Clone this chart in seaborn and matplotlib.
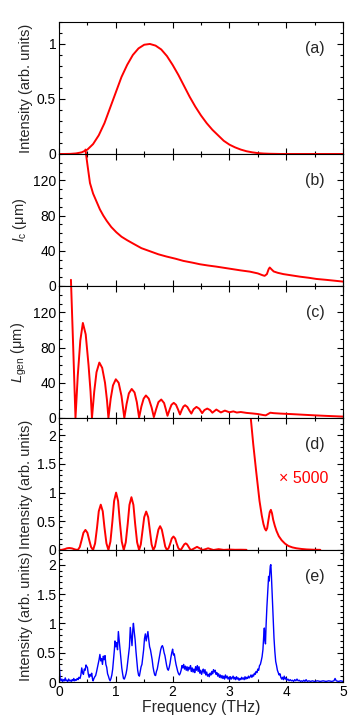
import numpy as np
import matplotlib
matplotlib.use("Agg")
import matplotlib.pyplot as plt
from matplotlib.ticker import MultipleLocator, FuncFormatter
import seaborn as sns

# (a) THz pump spectrum
freq_a = np.round(np.arange(0, 5.01, 0.1), 1)
int_a = [0, 0, 0.001, 0.005, 0.015, 0.04, 0.09, 0.17, 0.28, 0.42,
         0.56, 0.70, 0.81, 0.90, 0.96, 0.993, 1.0, 0.985, 0.95, 0.89,
         0.81, 0.72, 0.62, 0.52, 0.43, 0.35, 0.28, 0.22, 0.17, 0.12,
         0.085, 0.06, 0.04, 0.025, 0.015, 0.008, 0.004, 0.002, 0.001,
         0, 0, 0, 0, 0, 0, 0, 0, 0, 0, 0, 0]

# (b) coherence length
freq_b = [0.465, 0.5, 0.545, 0.6, 0.66, 0.72, 0.78, 0.84, 0.92, 1.01, 1.1, 1.2,
          1.31, 1.45, 1.6, 1.75, 1.89, 2.05, 2.19, 2.35, 2.48, 2.62, 2.77, 2.92,
          3.07, 3.2, 3.36, 3.5, 3.58, 3.62, 3.66, 3.69, 3.71, 3.74, 3.78, 3.85,
          3.95, 4.1, 4.24, 4.4, 4.53, 4.7, 4.85, 5.0]
lc_b = [155, 138, 117, 105, 96, 87, 80, 74, 67, 61, 56, 52,
        48, 43, 39.5, 36, 33.5, 31, 28.5, 26.5, 24.7, 23.3, 22, 20.5,
        19, 17.7, 16.3, 14.3, 12.3, 11.5, 13.5, 19, 21, 19, 16.5, 15,
        13.5, 12, 10.6, 9.3, 8, 7, 6, 5]

# (c) generation length
freq_c = [0.21, 0.25, 0.29,
          0.33, 0.375, 0.42, 0.47, 0.52, 0.555, 0.58,
          0.62, 0.66, 0.71, 0.76, 0.81, 0.845, 0.87,
          0.91, 0.95, 1.0, 1.05, 1.1, 1.15,
          1.19, 1.23, 1.28, 1.33, 1.37, 1.41,
          1.45, 1.49, 1.53, 1.58, 1.63, 1.67,
          1.71, 1.75, 1.80, 1.85, 1.88, 1.91,
          1.95, 1.98, 2.02, 2.06, 2.1, 2.13,
          2.16, 2.19, 2.22, 2.26, 2.3, 2.33,
          2.37, 2.42, 2.47, 2.52, 2.56, 2.61, 2.66, 2.70,
          2.77, 2.85, 2.92, 3.0, 3.07, 3.13, 3.2, 3.3, 3.4, 3.5,
          3.6, 3.64, 3.68, 3.72, 3.78, 3.9, 4.1, 4.3, 4.5, 4.7, 5.0]
lgen_c = [157, 80, 0,
          48, 88, 108, 95, 60, 30, 0,
          30, 52, 63, 57, 40, 20, 0,
          22, 37, 44, 40, 25, 0,
          16, 28, 33, 29, 18, 0.5,
          13, 22, 25.6, 22, 12, 1,
          10, 18, 21, 17, 10, 2.5,
          10, 15, 17.2, 15, 9, 4,
          9, 13, 14.5, 12.5, 8, 5,
          10, 12.6, 10.5, 5.5, 9, 10.7, 9, 6,
          9.6, 6.3, 8.4, 6.5, 7.5, 6.2, 6.8, 5.8, 5.2, 4.5,
          3.3, 3.0, 4.5, 6.0, 5.5, 5.0, 4.4, 3.7, 3.0, 2.4, 1.6]

# (d) calculated THz-induced intensity
freq_d = [0.0, 0.05, 0.1, 0.14, 0.18, 0.23, 0.28, 0.33,
          0.365, 0.40, 0.43, 0.465, 0.50, 0.53, 0.565, 0.60,
          0.635, 0.67, 0.70, 0.735, 0.77, 0.80, 0.835, 0.87,
          0.905, 0.94, 0.97, 1.005, 1.04, 1.07, 1.105, 1.14,
          1.175, 1.21, 1.24, 1.275, 1.31, 1.34, 1.375, 1.41,
          1.44, 1.47, 1.50, 1.535, 1.57, 1.60, 1.63, 1.66,
          1.69, 1.72, 1.75, 1.78, 1.81, 1.84, 1.87, 1.90,
          1.93, 1.96, 1.985, 2.015, 2.045, 2.07, 2.10, 2.13,
          2.155, 2.18, 2.205, 2.23, 2.255, 2.28, 2.305, 2.33,
          2.38, 2.43, 2.48, 2.53, 2.58, 2.625, 2.67, 2.72,
          2.81, 2.90, 3.0, 3.1, 3.2, 3.3]
int_d = [0, 0.003, 0.015, 0.03, 0.035, 0.028, 0.01, 0,
         0.05, 0.18, 0.30, 0.35, 0.30, 0.18, 0.05, 0,
         0.115, 0.395, 0.675, 0.79, 0.675, 0.395, 0.115, 0,
         0.146, 0.5, 0.854, 1.0, 0.854, 0.5, 0.146, 0,
         0.134, 0.46, 0.786, 0.92, 0.786, 0.46, 0.134, 0,
         0.098, 0.335, 0.572, 0.67, 0.572, 0.335, 0.098, 0,
         0.06, 0.21, 0.355, 0.415, 0.355, 0.21, 0.06, 0,
         0.034, 0.118, 0.2, 0.235, 0.2, 0.118, 0.034, 0,
         0.017, 0.058, 0.098, 0.115, 0.098, 0.058, 0.017, 0,
         0.028, 0.055, 0.028, 0, 0.015, 0.03, 0.015, 0,
         0.015, 0.002, 0.008, 0.004, 0.005, 0.003]
# (d) same, magnified x5000 near 3.7 THz
freq_d5 = [3.33, 3.375, 3.42, 3.47, 3.53, 3.57, 3.60, 3.625, 3.645, 3.665,
           3.685, 3.71, 3.73, 3.75, 3.77, 3.80, 3.83, 3.87, 3.92, 3.98,
           4.04, 4.11, 4.18, 4.27, 4.36, 4.48, 4.6]
int_d5 = [2.9, 2.31, 1.84, 1.38, 0.855, 0.6, 0.45, 0.37, 0.34, 0.38,
          0.51, 0.66, 0.70, 0.64, 0.53, 0.42, 0.33, 0.24, 0.17, 0.11,
          0.07, 0.045, 0.03, 0.018, 0.01, 0.005, 0.003]

# (e) measured intensity
freq_e = [0.00, 0.01, 0.02, 0.035, 0.05, 0.065, 0.08, 0.095, 0.11, 0.125,
          0.14, 0.155, 0.17, 0.185, 0.20, 0.215, 0.23, 0.245, 0.26, 0.275,
          0.29, 0.305, 0.32, 0.335, 0.35, 0.37, 0.385, 0.40, 0.415, 0.43,
          0.445, 0.46, 0.475, 0.49, 0.50, 0.515, 0.53, 0.545, 0.56, 0.575,
          0.59, 0.60, 0.615, 0.63, 0.645, 0.66, 0.675, 0.69, 0.705, 0.72,
          0.735, 0.75, 0.765, 0.78, 0.795, 0.81, 0.825, 0.84, 0.855, 0.87,
          0.885, 0.90, 0.915, 0.93, 0.945, 0.96, 0.975, 0.985, 1.00, 1.015,
          1.03, 1.045, 1.06, 1.075, 1.09, 1.105, 1.12, 1.135, 1.15, 1.165,
          1.18, 1.195, 1.21, 1.225, 1.24, 1.255, 1.27, 1.285, 1.30, 1.31,
          1.325, 1.34, 1.355, 1.37, 1.385, 1.40, 1.415, 1.43, 1.445, 1.46,
          1.475, 1.49, 1.505, 1.52, 1.535, 1.55, 1.565, 1.58, 1.595, 1.61,
          1.625, 1.64, 1.655, 1.67, 1.685, 1.70, 1.715, 1.73, 1.745, 1.76,
          1.775, 1.79, 1.805, 1.82, 1.835, 1.85, 1.865, 1.88, 1.895, 1.91,
          1.925, 1.94, 1.955, 1.97, 1.985, 2.00, 2.015, 2.03, 2.045, 2.06,
          2.075, 2.09, 2.105, 2.12, 2.135, 2.15, 2.165, 2.18, 2.195, 2.21,
          2.225, 2.24, 2.255, 2.27, 2.285, 2.30, 2.315, 2.33, 2.345, 2.36,
          2.375, 2.39, 2.405, 2.42, 2.435, 2.45, 2.465, 2.48, 2.495, 2.51,
          2.525, 2.54, 2.555, 2.57, 2.585, 2.60, 2.615, 2.63, 2.645, 2.66,
          2.675, 2.69, 2.705, 2.72, 2.735, 2.75, 2.765, 2.78, 2.795, 2.81,
          2.825, 2.84, 2.855, 2.87, 2.885, 2.90, 2.915, 2.93, 2.945, 2.96,
          2.975, 2.99, 3.005, 3.02, 3.035, 3.05, 3.065, 3.08, 3.095, 3.11,
          3.125, 3.14, 3.155, 3.17, 3.185, 3.20, 3.215, 3.23, 3.245, 3.26,
          3.275, 3.29, 3.305, 3.32, 3.335, 3.35, 3.365, 3.38, 3.395, 3.41,
          3.425, 3.44, 3.455, 3.47, 3.485, 3.50, 3.515, 3.53, 3.545, 3.56,
          3.575, 3.59, 3.605, 3.615, 3.625, 3.635, 3.645, 3.66, 3.675, 3.69,
          3.70, 3.71, 3.72, 3.73, 3.74, 3.755, 3.77, 3.785, 3.80, 3.815,
          3.83, 3.845, 3.86, 3.875, 3.89, 3.905, 3.92, 3.935, 3.95, 3.965,
          3.98, 3.995, 4.01, 4.03, 4.05, 4.07, 4.09, 4.11, 4.13, 4.15,
          4.17, 4.19, 4.21, 4.23, 4.25, 4.27, 4.29, 4.31, 4.33, 4.35,
          4.37, 4.40, 4.43, 4.46, 4.50, 4.55, 4.60, 4.65, 4.70, 4.75,
          4.80, 4.84, 4.86, 4.88, 4.92, 4.96, 5.00]
int_e = [0.35, 0.20, 0.06, 0.02, 0.05, 0.01, 0.04, 0.02, 0.07, 0.02,
         0.03, 0.01, 0.05, 0.02, 0.03, 0.01, 0.04, 0.02, 0.06, 0.02,
         0.04, 0.03, 0.06, 0.04, 0.08, 0.06, 0.12, 0.24, 0.16, 0.13,
         0.22, 0.20, 0.29, 0.26, 0.25, 0.14, 0.08, 0.13, 0.10, 0.15,
         0.05, 0.02, 0.06, 0.09, 0.11, 0.17, 0.24, 0.31, 0.38, 0.47,
         0.36, 0.40, 0.30, 0.44, 0.38, 0.45, 0.30, 0.25, 0.14, 0.10,
         0.05, 0.02, 0.06, 0.12, 0.22, 0.38, 0.55, 0.70, 0.60, 0.67,
         0.55, 0.86, 0.70, 0.52, 0.38, 0.24, 0.14, 0.06, 0.05, 0.09,
         0.14, 0.22, 0.35, 0.48, 0.60, 0.93, 0.78, 0.62, 0.90, 1.00,
         0.85, 0.72, 0.52, 0.36, 0.20, 0.12, 0.10, 0.18, 0.26, 0.30,
         0.42, 0.55, 0.74, 0.82, 0.70, 0.78, 0.86, 0.72, 0.60, 0.55,
         0.46, 0.38, 0.26, 0.18, 0.12, 0.11, 0.18, 0.22, 0.30, 0.38,
         0.45, 0.55, 0.60, 0.62, 0.58, 0.50, 0.45, 0.36, 0.28, 0.22,
         0.20, 0.25, 0.32, 0.42, 0.50, 0.56, 0.46, 0.48, 0.38, 0.30,
         0.24, 0.18, 0.14, 0.12, 0.15, 0.20, 0.28, 0.24, 0.30, 0.22,
         0.27, 0.20, 0.26, 0.19, 0.25, 0.22, 0.28, 0.18, 0.24, 0.17,
         0.22, 0.16, 0.26, 0.20, 0.28, 0.18, 0.26, 0.15, 0.20, 0.13,
         0.18, 0.22, 0.15, 0.21, 0.12, 0.17, 0.10, 0.13, 0.09, 0.15,
         0.12, 0.18, 0.14, 0.21, 0.17, 0.20, 0.13, 0.16, 0.10, 0.14,
         0.08, 0.12, 0.07, 0.11, 0.06, 0.10, 0.05, 0.12, 0.07, 0.10,
         0.05, 0.08, 0.04, 0.09, 0.05, 0.07, 0.10, 0.05, 0.08, 0.04,
         0.09, 0.05, 0.07, 0.03, 0.06, 0.04, 0.08, 0.05, 0.07, 0.04,
         0.09, 0.05, 0.08, 0.06, 0.10, 0.07, 0.09, 0.12, 0.08, 0.12,
         0.10, 0.15, 0.13, 0.18, 0.16, 0.22, 0.20, 0.28, 0.30, 0.36,
         0.43, 0.55, 0.80, 0.92, 0.72, 0.65, 0.95, 1.28, 1.55, 1.80,
         1.72, 1.85, 1.98, 2.00, 1.80, 1.45, 1.10, 0.75, 0.52, 0.35,
         0.28, 0.20, 0.16, 0.12, 0.14, 0.08, 0.05, 0.08, 0.04, 0.10,
         0.05, 0.07, 0.03, 0.05, 0.02, 0.04, 0.02, 0.03, 0.01, 0.04,
         0.02, 0.05, 0.02, 0.03, 0.01, 0.02, 0.01, 0.03, 0.01, 0.04,
         0.01, 0.02, 0.01, 0.02, 0.01, 0.02, 0.01, 0.02, 0.01, 0.02,
         0.01, 0.02, 0.06, 0.02, 0.01, 0.02, 0.01]

panel_tags = ["(a)", "(b)", "(c)", "(d)", "(e)"]
ylabels = ["Intensity (arb. units)", r"$l_{\rm c}$ (μm)", r"$L_{\rm gen}$ (μm)",
           "Intensity (arb. units)", "Intensity (arb. units)"]

sns.set_style("ticks", {"axes.edgecolor": "black", "xtick.color": "black",
                        "ytick.color": "black", "xtick.direction": "in",
                        "ytick.direction": "in"})
plt.rcParams["font.family"] = ["Liberation Sans", "DejaVu Sans"]
plt.rcParams["mathtext.fontset"] = "custom"
plt.rcParams["mathtext.rm"] = "Liberation Sans"
plt.rcParams["mathtext.it"] = "Liberation Sans:italic"

fig, axes = plt.subplots(5, 1, figsize=(3.57, 7.25), dpi=100, sharex=True)
fig.subplots_adjust(left=0.1653, right=0.9608, bottom=0.0593, top=0.9697, hspace=0)

red = "#ff0000"
sns.lineplot(x=freq_a, y=int_a, ax=axes[0], color=red, linewidth=1.4)
sns.lineplot(x=freq_b, y=lc_b, ax=axes[1], color=red, linewidth=1.4, clip_on=False)
sns.lineplot(x=freq_c, y=lgen_c, ax=axes[2], color=red, linewidth=1.4, clip_on=False)
sns.lineplot(x=freq_d, y=int_d, ax=axes[3], color=red, linewidth=1.4)
sns.lineplot(x=freq_d5, y=int_d5, ax=axes[3], color=red, linewidth=1.4)
sns.lineplot(x=freq_e, y=int_e, ax=axes[4], color="#0000ff", linewidth=1.0)

ylims = [(0, 1.2), (0, 150), (0, 150), (0, 2.3), (0, 2.25)]
ymajor = [0.5, 40, 40, 0.5, 0.5]
yminor = [0.1, 10, 10, 0.1, 0.1]
fmt = FuncFormatter(lambda v, p: "%g" % v)

for i, ax in enumerate(axes):
    ax.set_xlim(0, 5)
    ax.set_ylim(*ylims[i])
    ax.xaxis.set_major_locator(MultipleLocator(1))
    ax.xaxis.set_minor_locator(MultipleLocator(0.5))
    ax.yaxis.set_major_locator(MultipleLocator(ymajor[i]))
    ax.yaxis.set_minor_locator(MultipleLocator(yminor[i]))
    ax.yaxis.set_major_formatter(fmt)
    ax.tick_params(which="both", direction="in", top=True, right=True,
                   width=0.8, labelsize=10, pad=2)
    ax.tick_params(which="major", length=4)
    ax.tick_params(which="minor", length=2.2)
    for s in ax.spines.values():
        s.set_linewidth(0.8)
    ax.set_ylabel(ylabels[i], fontsize=10.5, labelpad=3)
    ax.set_xlabel("")
    ax.text(0.935, 0.80, panel_tags[i], transform=ax.transAxes,
            ha="right", va="center", fontsize=11.5)

axes[3].text(0.947, 0.54, "× 5000", transform=axes[3].transAxes,
             ha="right", va="center", fontsize=11.5, color=red)
axes[4].xaxis.set_major_formatter(fmt)
axes[4].set_xlabel("Frequency (THz)", fontsize=11.3, labelpad=1)

fig.savefig("out.png", dpi=100)
